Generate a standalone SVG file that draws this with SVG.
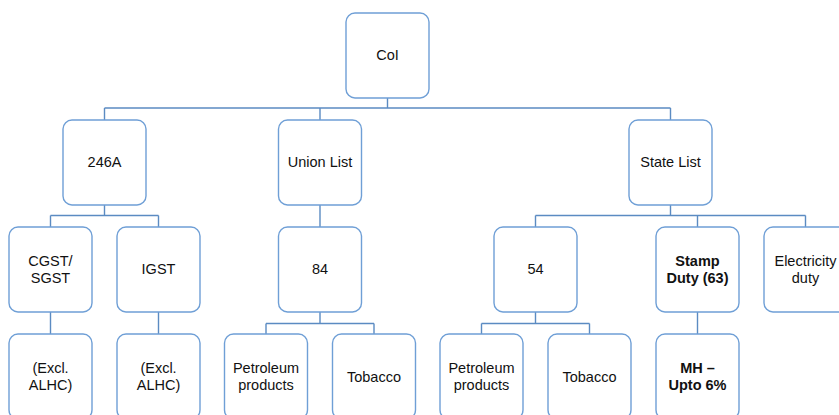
<svg xmlns="http://www.w3.org/2000/svg" width="839" height="415" viewBox="0 0 839 415">
  <style>
    .box { fill: #ffffff; stroke: #6f9fd6; stroke-width: 1.4; }
    .lnk { fill: none; stroke: #5b8bc2; stroke-width: 1.4; }
    text { font-family: "Liberation Sans", Arial, sans-serif; font-size: 14.5px; fill: #111111; text-anchor: middle; }
    .b { font-weight: bold; }
  </style>
  <defs>
    <rect id="card" width="83" height="85" rx="9" ry="9" class="box"/>
  </defs>
  <rect width="839" height="415" fill="#ffffff"/>

  <g id="connectors">
    <path class="lnk" d="M387.5 98 V108 M104.5 108 H670.5 M104.5 108 V120 M320 108 V120 M670.5 108 V120"/>
    <path class="lnk" d="M104.5 205 V215.5 M50.5 215.5 H158.5 M50.5 215.5 V227 M158.5 215.5 V227"/>
    <path class="lnk" d="M320 205 V227"/>
    <path class="lnk" d="M670.5 205 V215.5 M535.5 215.5 H805.5 M535.5 215.5 V227 M697.5 215.5 V227 M805.5 215.5 V227"/>
    <path class="lnk" d="M50.5 312 V334 M158.5 312 V334"/>
    <path class="lnk" d="M320 312 V323.5 M266 323.5 H374 M266 323.5 V334 M374 323.5 V334"/>
    <path class="lnk" d="M535.5 312 V323.5 M481.5 323.5 H589.5 M481.5 323.5 V334 M589.5 323.5 V334"/>
    <path class="lnk" d="M697.5 312 V334"/>
  </g>

  <g id="coi"><use href="#card" x="346" y="13"/><text x="387.5" y="60">CoI</text></g>

  <g id="art246a"><use href="#card" x="63" y="120"/><text x="104.5" y="167">246A</text></g>
  <g id="union-list"><use href="#card" x="278.5" y="120"/><text x="320" y="167">Union List</text></g>
  <g id="state-list"><use href="#card" x="629" y="120"/><text x="670.5" y="167">State List</text></g>

  <g id="cgst"><use href="#card" x="9" y="227"/><text x="50.5" y="266">CGST/</text><text x="50.5" y="283">SGST</text></g>
  <g id="igst"><use href="#card" x="117" y="227"/><text x="158.5" y="274">IGST</text></g>
  <g id="entry84"><use href="#card" x="278.5" y="227"/><text x="320" y="274">84</text></g>
  <g id="entry54"><use href="#card" x="494" y="227"/><text x="535.5" y="274">54</text></g>
  <g id="stamp-duty"><use href="#card" x="656" y="227"/><text class="b" x="697.5" y="266">Stamp</text><text class="b" x="697.5" y="283">Duty (63)</text></g>
  <g id="electricity"><use href="#card" x="764" y="227"/><text x="805.5" y="266">Electricity</text><text x="805.5" y="283">duty</text></g>

  <g id="cgst-excl"><use href="#card" x="9" y="334"/><text x="50.5" y="373">(Excl.</text><text x="50.5" y="390">ALHC)</text></g>
  <g id="igst-excl"><use href="#card" x="117" y="334"/><text x="158.5" y="373">(Excl.</text><text x="158.5" y="390">ALHC)</text></g>
  <g id="union-petroleum"><use href="#card" x="224.5" y="334"/><text x="266" y="373">Petroleum</text><text x="266" y="390">products</text></g>
  <g id="union-tobacco"><use href="#card" x="332.5" y="334"/><text x="374" y="382">Tobacco</text></g>
  <g id="state-petroleum"><use href="#card" x="440" y="334"/><text x="481.5" y="373">Petroleum</text><text x="481.5" y="390">products</text></g>
  <g id="state-tobacco"><use href="#card" x="548" y="334"/><text x="589.5" y="382">Tobacco</text></g>
  <g id="mh"><use href="#card" x="656" y="334"/><text class="b" x="697.5" y="373">MH –</text><text class="b" x="697.5" y="390">Upto 6%</text></g>
</svg>
